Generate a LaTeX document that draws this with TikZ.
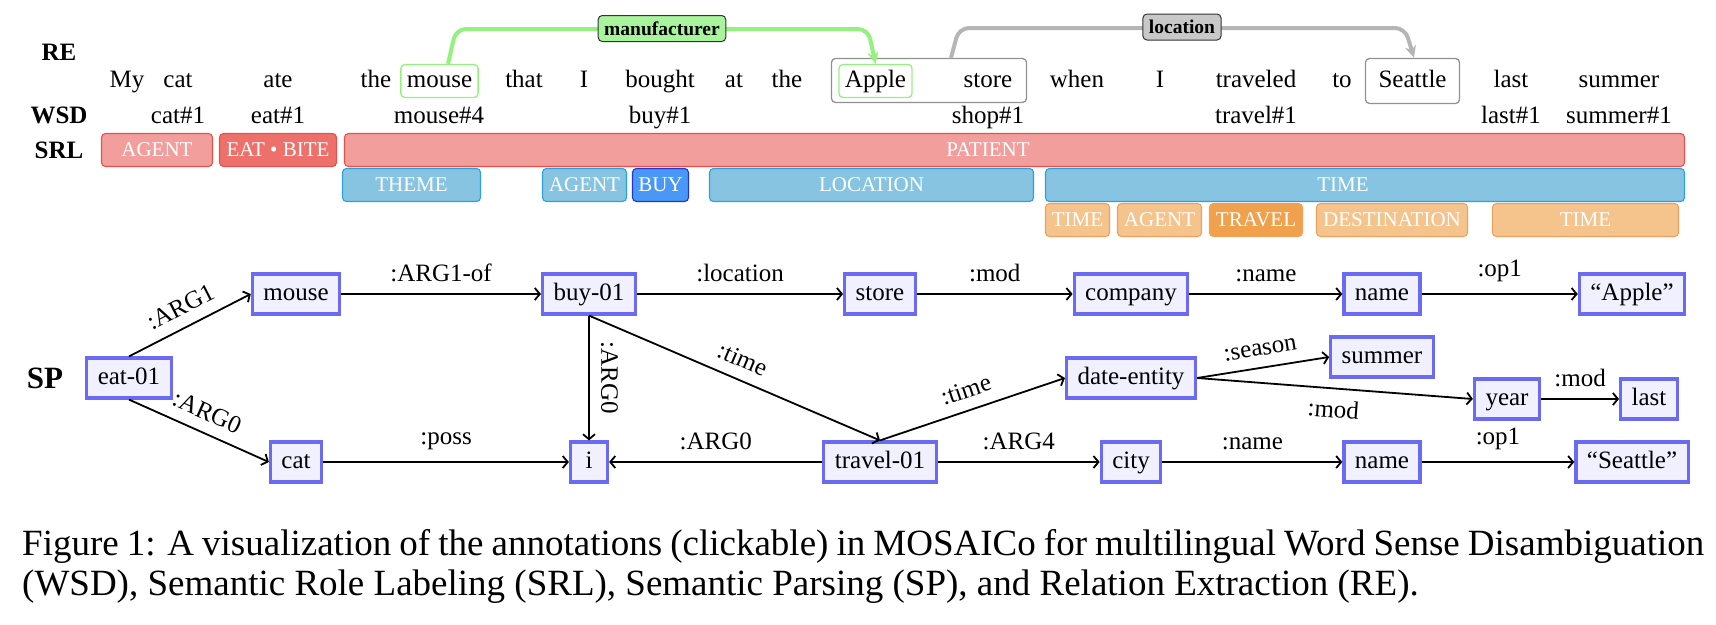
\documentclass[tikz,border=0pt]{standalone}
\usepackage{fontspec}
\setmainfont{Liberation Serif}
\usetikzlibrary{arrows.meta}

\definecolor{srlPink}{HTML}{F19E9C}
\definecolor{srlPinkDark}{HTML}{ED706B}
\definecolor{srlPinkLine}{HTML}{E8514B}
\definecolor{srlBlue}{HTML}{86C4E2}
\definecolor{srlBlueDark}{HTML}{4A98F6}
\definecolor{srlBlueLine}{HTML}{2BA3D6}
\definecolor{srlBlueDarkLine}{HTML}{2234DA}
\definecolor{srlOrange}{HTML}{F5C48C}
\definecolor{srlOrangeDark}{HTML}{F1A14C}
\definecolor{srlOrangeLine}{HTML}{F0A05E}
\definecolor{amrFill}{HTML}{F0F0FF}
\definecolor{amrLine}{HTML}{6A6AF2}
\definecolor{reGreen}{HTML}{93F27E}
\definecolor{reGreenFill}{HTML}{A8F49C}
\definecolor{reGrey}{HTML}{B5B5B5}
\definecolor{reGreyFill}{HTML}{C8C8C8}

\tikzset{
  word/.style={anchor=base, inner sep=0pt, font=\fontsize{25}{30}\selectfont},
  rowname/.style={word, font=\fontsize{25}{30}\selectfont\bfseries},
  rebox/.style={draw=#1, line width=1.3pt, rounded corners=4pt, inner xsep=6pt, inner ysep=5.5pt, text height=17pt, text depth=5pt},
  relabel/.style={draw=black!80, line width=1pt, rounded corners=4pt, inner xsep=6pt, minimum height=26pt, font=\fontsize{19.5}{22}\selectfont\bfseries},
  reline/.style={line width=4pt, rounded corners=10pt, -{Stealth[length=12pt,width=11pt]}},
  srl/.style={rounded corners=4pt, line width=1.1pt, text=white, minimum height=33pt, inner sep=0pt, font=\fontsize{21}{24}\selectfont},
  srltxt/.style={text=white, inner sep=0pt, font=\fontsize{21}{24}\selectfont},
  srlpink/.style={srl, fill=srlPink, draw=srlPinkLine},
  srlpinkdark/.style={srl, fill=srlPinkDark, draw=srlPinkLine},
  srlblue/.style={srl, fill=srlBlue, draw=srlBlueLine},
  srlbluedark/.style={srl, fill=srlBlueDark, draw=srlBlueDarkLine},
  srlorange/.style={srl, fill=srlOrange, draw=srlOrangeLine},
  srlorangedark/.style={srl, fill=srlOrangeDark, draw=srlOrangeLine},
  amr/.style={draw=amrLine, fill=amrFill, line width=3.2pt, inner xsep=11pt, inner ysep=9pt, text height=17pt, text depth=5pt, font=\fontsize{25}{30}\selectfont},
  arc/.style={line width=1.8pt, -{Straight Barb[length=5pt,width=12pt]}},
  lbl/.style={inner sep=0pt, font=\fontsize{25}{30}\selectfont},
  caption/.style={anchor=base west, inner sep=0pt, font=\fontsize{37}{44}\selectfont}
}

\begin{document}
\begin{tikzpicture}[x=1pt, y=-1pt]
\useasboundingbox (0,0) rectangle (1716,624);

% row names
\node[rowname] (re) at (59,60) {RE};
\node[rowname] (wsd) at (59,123) {WSD};
\node[rowname] (srl) at (59,158) {SRL};
\node[rowname, font=\fontsize{31}{36}\selectfont\bfseries] (sp) at (45,388) {SP};

% sentence
\node[word] (w_my) at (127,87) {My};
\node[word] (w_cat) at (178,87) {cat};
\node[word] (w_ate) at (278,87) {ate};
\node[word] (w_the) at (376,87) {the};
\node[word, rebox=reGreen] (w_mouse) at (439.5,87) {mouse};
\node[word] (w_that) at (524,87) {that};
\node[word] (w_i) at (584,87) {I};
\node[word] (w_bought) at (660,87) {bought};
\node[word] (w_at) at (734,87) {at};
\node[word] (w_the2) at (787,87) {the};
\node[word, rebox=reGreen] (w_apple) at (875.5,87) {Apple};
\node[word] (w_store) at (988,87) {store};
\node[draw=reGrey!80!black, line width=1.3pt, rounded corners=4pt, minimum width=195pt, minimum height=44pt] (storebox) at (929,80.5) {};
\node[word] (w_when) at (1077,87) {when};
\node[word] (w_i2) at (1160,87) {I};
\node[word] (w_traveled) at (1256,87) {traveled};
\node[word] (w_to) at (1342,87) {to};
\node[word, rebox=reGrey!80!black, inner xsep=13pt, inner ysep=11.5pt] (w_seattle) at (1412.5,87) {Seattle};
\node[word] (w_last) at (1511,87) {last};
\node[word] (w_summer) at (1619,87) {summer};

% relations
\draw[reline, reGreen] ([xshift=8.5pt]w_mouse.north) -- (456,29) -- (868,29) -- (w_apple.north);
\node[relabel, fill=reGreenFill] (manuf) at (662,28.5) {manufacturer};
\draw[reline, reGrey] ([xshift=22pt]storebox.north) -- (959,28) -- (1405,28) -- ([xshift=1.5pt]w_seattle.north);
\node[relabel, fill=reGreyFill] (loc) at (1182,27) {location};

% senses
\node[word] (s_cat) at (178,123) {cat\#1};
\node[word] (s_eat) at (278,123) {eat\#1};
\node[word] (s_mouse) at (439,123) {mouse\#4};
\node[word] (s_buy) at (660,123) {buy\#1};
\node[word] (s_shop) at (988,123) {shop\#1};
\node[word] (s_travel) at (1256,123) {travel\#1};
\node[word] (s_last) at (1511,123) {last\#1};
\node[word] (s_summer) at (1619,123) {summer\#1};

% roles
\node[srlpink, minimum width=111pt] (r_agent) at (157,150) {AGENT};
\node[srlpinkdark, minimum width=117pt] (r_eat) at (278,150) {EAT \textbullet{} BITE};
\node[srlpink, minimum width=1340pt] (r_patient) at (1014.5,150) {};
\node[srltxt] (r_patient_t) at (988,150) {PATIENT};

\node[srlblue, minimum width=138pt] (r_theme) at (411.5,185) {THEME};
\node[srlblue, minimum width=84pt] (r_agent2) at (584.5,185) {AGENT};
\node[srlbluedark, minimum width=56pt] (r_buy) at (660.5,185) {BUY};
\node[srlblue, minimum width=324pt] (r_location) at (871.5,185) {LOCATION};
\node[srlblue, minimum width=639pt] (r_time) at (1365,185) {};
\node[srltxt] (r_time_t) at (1343,185) {TIME};

\node[srlorange, minimum width=64pt] (r_time2) at (1077.5,220) {TIME};
\node[srlorange, minimum width=84pt] (r_agent3) at (1159.5,220) {AGENT};
\node[srlorangedark, minimum width=93pt] (r_travel) at (1256,220) {TRAVEL};
\node[srlorange, minimum width=151pt] (r_dest) at (1392,220) {DESTINATION};
\node[srlorange, minimum width=186pt] (r_time3) at (1585.5,220) {TIME};

% semantic graph
\node[amr] (eat) at (129,378) {eat-01};
\node[amr] (mouse) at (296,294) {mouse};
\node[amr] (buy) at (589,294) {buy-01};
\node[amr] (store) at (880,294) {store};
\node[amr] (company) at (1131,294) {company};
\node[amr] (name1) at (1382,294) {name};
\node[amr] (apple) at (1632,294) {``Apple''};
\node[amr] (date) at (1131,378) {date-entity};
\node[amr] (summer) at (1382,357) {summer};
\node[amr] (year) at (1507,399) {year};
\node[amr] (last) at (1649,399) {last};
\node[amr] (cat) at (296,462) {cat};
\node[amr, minimum width=37pt] (i) at (589,462) {i};
\node[amr] (travel) at (880,462) {travel-01};
\node[amr] (city) at (1131,462) {city};
\node[amr] (name2) at (1382,462) {name};
\node[amr] (seattle) at (1632,462) {``Seattle''};

\draw[arc] (eat.north) -- node[lbl, midway, sloped, above=11pt] (l_arg1) {:ARG1} (mouse.west);
\draw[arc] (eat.south) -- node[lbl, midway, sloped, above=11pt] (l_arg0) {:ARG0} (cat.west);
\draw[arc] (mouse) -- node[lbl, midway, above=11pt] (l_arg1of) {:ARG1-of} (buy);
\draw[arc] (buy) -- node[lbl, midway, above=11pt] (l_loc) {:location} (store);
\draw[arc] (store) -- node[lbl, midway, above=11pt] (l_mod1) {:mod} (company);
\draw[arc] (company) -- node[lbl, midway, above=11pt] (l_name1) {:name} (name1);
\draw[arc] (name1) -- node[lbl, midway, above=11pt] (l_op1) {:op1} (apple);
\draw[arc] (buy.south) -- node[lbl, inner ysep=11pt, midway, rotate=-90, anchor=south] (l_arg0b) {:ARG0} (i.north);
\draw[arc] (buy.south) -- node[lbl, midway, sloped, above=11pt] (l_time1) {:time} (travel.north);
\draw[arc] (travel.north) -- node[lbl, midway, sloped, above=11pt] (l_time2) {:time} (date.west);
\draw[arc] (date.east) -- node[lbl, midway, sloped, above=11pt] (l_season) {:season} (summer.west);
\draw[arc] (date.east) -- node[lbl, midway, sloped, below=11pt] (l_mod2) {:mod} (year.west);
\draw[arc] (year) -- node[lbl, midway, above=11pt] (l_mod3) {:mod} (last);
\draw[arc] (cat) -- node[lbl, midway, above=11pt] (l_poss) {:poss} (i);
\draw[arc] (travel) -- node[lbl, midway, above=11pt] (l_arg0c) {:ARG0} (i);
\draw[arc] (travel) -- node[lbl, midway, above=11pt] (l_arg4) {:ARG4} (city);
\draw[arc] (city) -- node[lbl, midway, above=11pt] (l_name2) {:name} (name2);
\draw[arc] (name2) -- node[lbl, midway, above=11pt] (l_op2) {:op1} (seattle);

% caption
\node[caption] (cap1) at (22,555) {\makebox[1682pt][s]{Figure 1: A visualization of the annotations (clickable) in MOSAICo for multilingual Word Sense Disambiguation}};
\node[caption] (cap2) at (22,595) {(WSD), Semantic Role Labeling (SRL), Semantic Parsing (SP), and Relation Extraction (RE).};
\end{tikzpicture}
\end{document}
